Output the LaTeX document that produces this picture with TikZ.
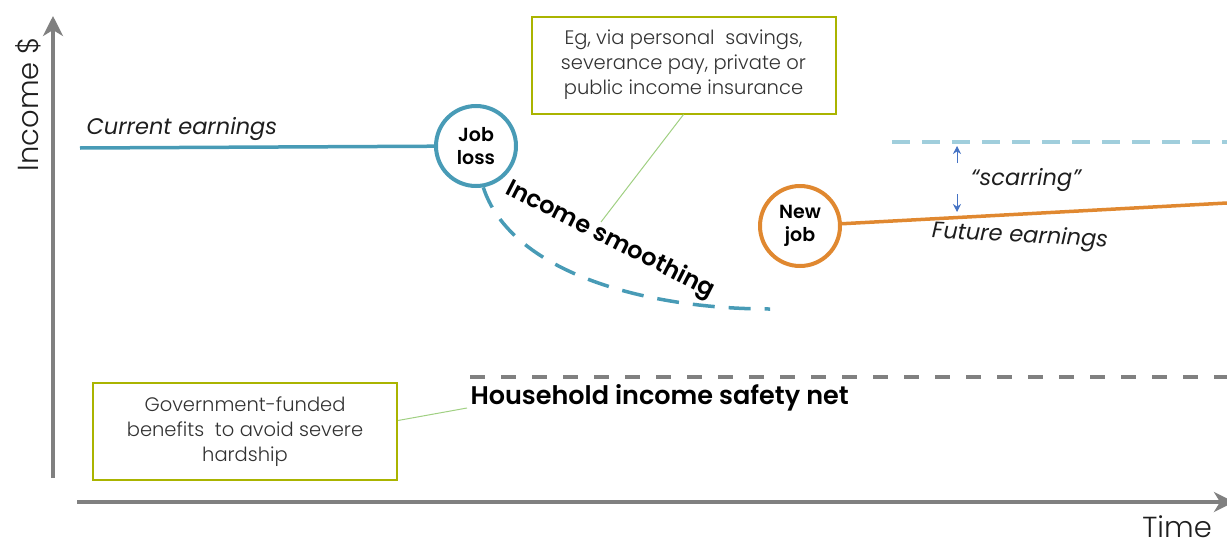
\documentclass[tikz,border=0pt]{standalone}
\usepackage{fontspec}
\setmainfont{Poppins}[BoldFont={Poppins SemiBold}]
\newfontfamily\lightfont{Poppins Light}
\usetikzlibrary{arrows.meta, positioning}

\definecolor{earnteal}{RGB}{72,155,182}
\definecolor{newjoborange}{RGB}{224,136,48}
\definecolor{scarblue}{RGB}{160,206,220}
\definecolor{arrowblue}{RGB}{68,114,196}
\definecolor{axisgray}{RGB}{128,128,128}
\definecolor{boxolive}{RGB}{170,180,0}
\definecolor{calloutgreen}{RGB}{160,208,130}
\definecolor{textdark}{RGB}{30,30,30}
\definecolor{textgray}{RGB}{50,50,50}

\begin{document}
\begin{tikzpicture}[
x=1pt, y=-1pt,
axis/.style={axisgray, line width=4.5pt, -{Stealth[length=20pt, width=20pt, inset=6pt]}},
earnline/.style={earnteal, line width=3.5pt},
eventcircle/.style={circle, draw, line width=4pt, minimum size=80pt, inner sep=0pt, align=center, font=\bfseries\fontsize{19}{23}\selectfont, text=black},
notebox/.style={rectangle, draw=boxolive, line width=2pt, minimum width=304pt, minimum height=97pt, align=center, text=textgray, font=\lightfont\fontsize{19.5}{25}\selectfont},
callout/.style={calloutgreen, line width=1pt},
label/.style={text=textdark, font=\itshape\fontsize{22.5}{26}\selectfont},
scararrow/.style={arrowblue, line width=0.8pt, -{Stealth[length=8pt, width=8pt]}}
]
\useasboundingbox (0,0) rectangle (1227,541);

% axes
\coordinate (ybottom) at (53,478);
\coordinate (ytop) at (53,16);
\coordinate (xleft) at (77,502);
\coordinate (xright) at (1234,502);
\draw[axis] (ybottom) -- (ytop);
\draw[axis] (xleft) -- (xright);
\node[rotate=90, text=textdark, font=\lightfont\fontsize{29}{34}\selectfont] (incomelabel) at (28,104) {Income \$};
\node[anchor=base east, inner sep=0pt, text=textdark, font=\lightfont\fontsize{29}{34}\selectfont] (timelabel) at (1212,537) {Time};

% current earnings and job loss
\node[eventcircle, draw=earnteal] (jobloss) at (476,146) {Job\\loss};
\coordinate (curstart) at (80,148);
\draw[earnline] (curstart) -- (jobloss);
\node[label, anchor=south west] (curlabel) at (83,144) {Current earnings};

% income smoothing
\coordinate (smoothend) at (770,309);
\draw[earnline, dash pattern=on 22pt off 14pt] (jobloss.-80) .. controls (510,270) and (640,309) .. (smoothend);
\node[rotate=-27, font=\bfseries\fontsize{24}{28}\selectfont, text=black] (smoothlabel) at (610,240) {Income smoothing};

\node[notebox] (smoothbox) at (683.5,65) {Eg, via personal\ \ savings,\\severance pay, private or\\public income insurance};
\coordinate (smoothtip) at (601,222);
\draw[callout] (smoothbox.south) -- (smoothtip);

% new job and future earnings
\node[eventcircle, draw=newjoborange] (newjob) at (800,226) {New\\job};
\coordinate (futureend) at (1227,203);
\draw[newjoborange, line width=3.5pt] (newjob) -- (futureend);
\node[label, rotate=-3] (futurelabel) at (1020,237) {Future earnings};

% scarring
\coordinate (scarstart) at (892,142);
\coordinate (scarend) at (1227,142);
\draw[scarblue, line width=3.5pt, dash pattern=on 18pt off 12pt] (scarstart) -- (scarend);
\coordinate (scarupfrom) at (957,163);
\coordinate (scarupto) at (957,146);
\coordinate (scardownfrom) at (957,194);
\coordinate (scardownto) at (957,212);
\draw[scararrow] (scarupfrom) -- (scarupto);
\draw[scararrow] (scardownfrom) -- (scardownto);
\node[label] (scarlabel) at (1026,180) {``scarring''};

% safety net
\coordinate (netstart) at (470,377);
\coordinate (netend) at (1227,377);
\draw[axisgray, line width=4pt, dash pattern=on 15pt off 16pt] (netstart) -- (netend);
\node[anchor=west, font=\bfseries\fontsize{25.5}{30}\selectfont, text=black] (safety) at (467,398) {Household income safety net};

\node[notebox] (govbox) at (245,431.5) {Government-funded\\benefits\ \ to avoid severe\\hardship};
\draw[callout] ([yshift=11pt]govbox.east) -- ([yshift=-10pt]safety.west);

\end{tikzpicture}
\end{document}
